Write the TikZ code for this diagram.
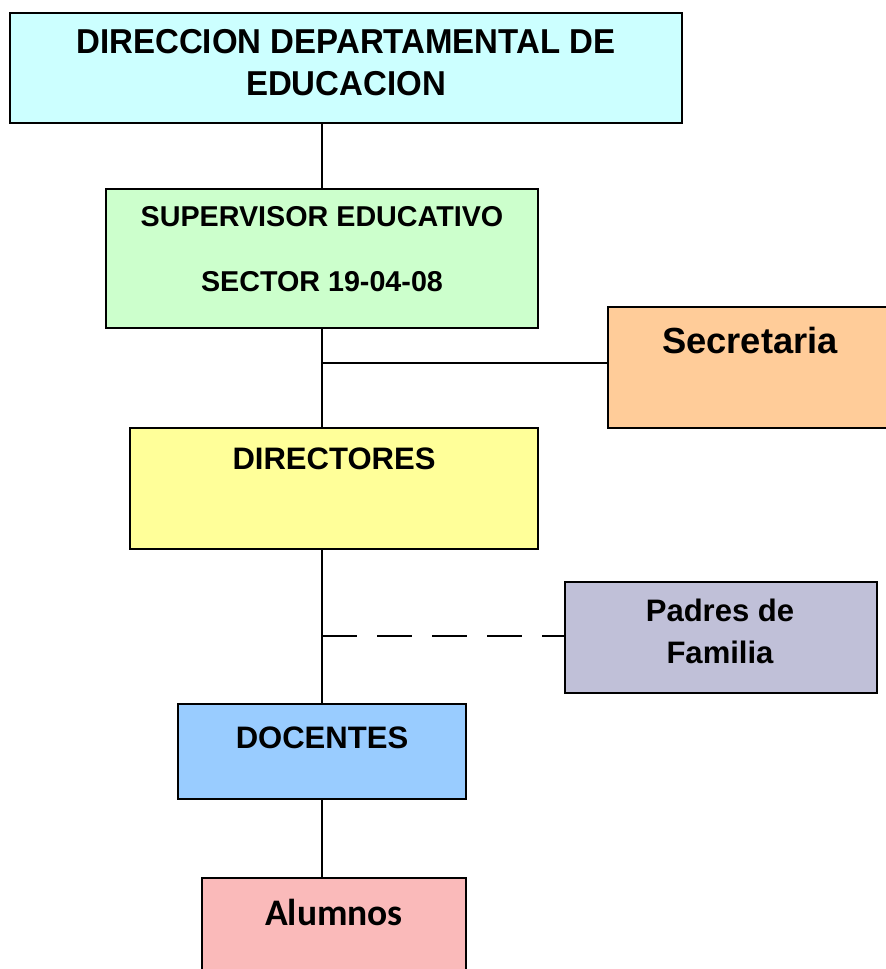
\documentclass[tikz,border=0pt]{standalone}
\usepackage{fontspec}
\setmainfont{Liberation Sans}
\newfontfamily\narrowfont{Liberation Sans}[FakeStretch=0.955]
\newfontfamily\calfont{Carlito}
\usetikzlibrary{calc}
\definecolor{dirfill}{HTML}{CCFFFF}
\definecolor{supfill}{HTML}{CCFFCC}
\definecolor{secfill}{HTML}{FFCC99}
\definecolor{dtrfill}{HTML}{FFFF99}
\definecolor{padfill}{RGB}{192,192,216}
\definecolor{docfill}{HTML}{99CCFF}
\definecolor{alufill}{RGB}{250,186,186}
\tikzset{box/.style={draw, line width=1.4pt, rectangle, inner sep=0pt},
  lbl/.style={align=center, font=\bfseries, inner sep=0pt},
  link/.style={line width=1.2pt}}

\begin{document}
\begin{tikzpicture}
  \useasboundingbox (0,0) rectangle (26.55,-29.07);
  % boxes
  \node (dir) at (10.38,-2.04) [box, fill=dirfill, minimum width=20.16cm, minimum height=3.30cm] {};
  \node (sup) at (9.66,-7.755) [box, fill=supfill, minimum width=12.96cm, minimum height=4.17cm] {};
  \node (sec) at (22.62,-11.025) [box, fill=secfill, minimum width=8.76cm, minimum height=3.63cm] {};
  \node (dtr) at (10.02,-14.655) [box, fill=dtrfill, minimum width=12.24cm, minimum height=3.63cm] {};
  \node (pad) at (21.63,-19.125) [box, fill=padfill, minimum width=9.36cm, minimum height=3.33cm] {};
  \node (doc) at (9.66,-22.545) [box, fill=docfill, minimum width=8.64cm, minimum height=2.85cm] {};
  \node (alu) at (10.02,-28.6) [box, fill=alufill, minimum width=7.92cm, minimum height=4.52cm] {};
  % texts
  \node (dirT) at (10.38,-1.89) [lbl, font=\narrowfont\bfseries\fontsize{29.5}{36}\selectfont] {DIRECCION DEPARTAMENTAL DE\\EDUCACION};
  \node (supT) at (9.66,-7.47) [lbl, font=\bfseries\fontsize{24.5}{56}\selectfont] {SUPERVISOR EDUCATIVO\\SECTOR 19-04-08};
  \node (secT) at (22.5,-10.23) [lbl, font=\bfseries\fontsize{31}{36}\selectfont] {Secretaria};
  \node (dtrT) at (10.02,-13.77) [lbl, font=\bfseries\fontsize{26.5}{32}\selectfont] {DIRECTORES};
  \node (padT) at (21.6,-18.93) [lbl, font=\bfseries\fontsize{26.5}{36}\selectfont] {Padres de\\Familia};
  \node (docT) at (9.66,-22.14) [lbl, font=\bfseries\fontsize{26.5}{32}\selectfont] {DOCENTES};
  \node (aluT) at (10.02,-27.36) [lbl, font=\calfont\bfseries\fontsize{32}{36}\selectfont] {Alumnos};
  % connectors
  \coordinate (secJ) at (9.66,-10.89);
  \coordinate (padJ) at (9.66,-19.08);
  \draw[link] (dir.south -| sup.north) -- (sup.north);
  \draw[link] (sup.south) -- (sup.south |- dtr.north);
  \draw[link] (secJ) -- (secJ -| sec.west);
  \draw[link] (doc.north |- dtr.south) -- (doc.north);
  \draw[link, dash pattern=on 30pt off 17pt] (padJ) -- (padJ -| pad.west);
  \draw[link] (doc.south) -- (doc.south |- alu.north);
\end{tikzpicture}
\end{document}
